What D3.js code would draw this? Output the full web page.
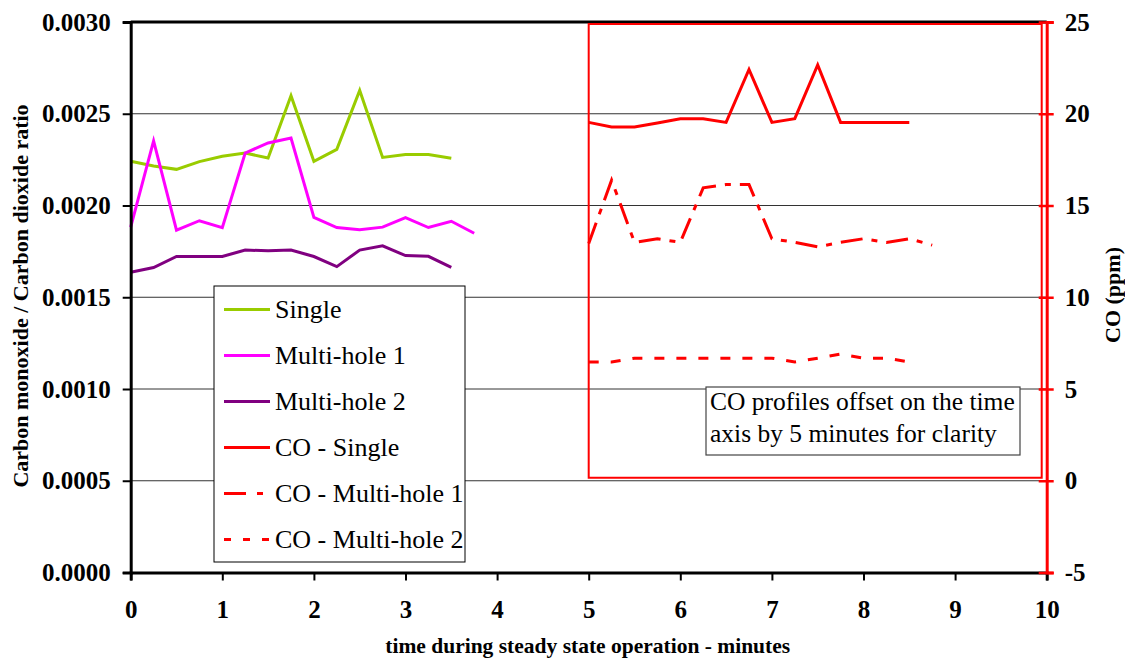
<!DOCTYPE html>
<html>
<head>
<meta charset="utf-8">
<script src="https://cdn.jsdelivr.net/npm/d3@7"></script>
<style>
  body { margin: 0; background: #fff; }
  svg text { font-family: "Liberation Serif", "Times New Roman", serif; }
</style>
</head>
<body>
<div id="chart"></div>
<script>
// time points (minutes)
const timeA = [0, 0.25, 0.5, 0.75, 1, 1.25, 1.5, 1.75, 2, 2.25, 2.5, 2.75, 3, 3.25, 3.5];
const timeB = [0, 0.25, 0.5, 0.75, 1, 1.25, 1.5, 1.75, 2, 2.25, 2.5, 2.75, 3, 3.25, 3.5, 3.75];
// CO profiles are shown offset by 5 minutes
const timeCoA = [5, 5.25, 5.5, 5.75, 6, 6.25, 6.5, 6.75, 7, 7.25, 7.5, 7.75, 8, 8.25, 8.5];
const timeCoB = [5, 5.25, 5.5, 5.75, 6, 6.25, 6.5, 6.75, 7, 7.25, 7.5, 7.75, 8, 8.25, 8.5, 8.75];

// CO / CO2 ratio
const single = [0.002241, 0.002215, 0.002197, 0.002239, 0.002268, 0.002286, 0.002259, 0.002598,
  0.002241, 0.002306, 0.002627, 0.002262, 0.002278, 0.002278, 0.002258];
const multiHole1 = [0.001882, 0.002352, 0.001866, 0.001917, 0.001879, 0.002286, 0.002341, 0.002368,
  0.001935, 0.001880, 0.001868, 0.001882, 0.001934, 0.001880, 0.001914, 0.001849];
const multiHole2 = [0.001636, 0.001662, 0.001722, 0.001722, 0.001722, 0.001757, 0.001753, 0.001757,
  0.001722, 0.001667, 0.001757, 0.001780, 0.001727, 0.001723, 0.001663];

// CO (ppm)
const coSingle = [19.53, 19.28, 19.28, 19.5, 19.73, 19.73, 19.53, 22.41, 19.53, 19.73, 22.66, 19.53, 19.53, 19.53, 19.53];
const coMultiHole1 = [12.93, 16.38, 12.99, 13.19, 12.99, 15.96, 16.14, 16.14, 13.19, 12.99, 12.75, 12.99, 13.19, 12.99, 13.19, 12.84];
const coMultiHole2 = [6.47, 6.47, 6.68, 6.68, 6.68, 6.68, 6.68, 6.68, 6.68, 6.47, 6.68, 6.90, 6.68, 6.68, 6.47];

const xTicks = [0, 1, 2, 3, 4, 5, 6, 7, 8, 9, 10];
const leftTicks = [0, 0.0005, 0.001, 0.0015, 0.002, 0.0025, 0.003];
const rightTicks = [-5, 0, 5, 10, 15, 20, 25];

const width = 1125;
const height = 659;
const plotLeft = 130.7, plotRight = 1046.7, plotTop = 22, plotBottom = 572.5;

const svg = d3.select("#chart").append("svg")
  .attr("width", width)
  .attr("height", height);

const x = d3.scaleLinear().domain([0, 10]).range([plotLeft, plotRight]);
const yL = d3.scaleLinear().domain([0, 0.003]).range([plotBottom, plotTop]);
const yR = d3.scaleLinear().domain([-5, 25]).range([plotBottom, plotTop]);

// gridlines
svg.append("g")
  .selectAll("line")
  .data(leftTicks.filter(d => d > 0 && d < 0.003))
  .enter()
  .append("line")
  .attr("x1", plotLeft).attr("x2", plotRight)
  .attr("y1", d => yL(d)).attr("y2", d => yL(d))
  .attr("stroke", "#333")
  .attr("stroke-width", 1);

// top border
svg.append("line")
  .attr("x1", plotLeft).attr("x2", plotRight)
  .attr("y1", plotTop).attr("y2", plotTop)
  .attr("stroke", "#000").attr("stroke-width", 3);

// red box around the CO profiles
svg.append("rect")
  .attr("x", x(5))
  .attr("y", plotTop + 2)
  .attr("width", plotRight - 5 - x(5))
  .attr("height", yR(0) - 3 - (plotTop + 2))
  .attr("fill", "none")
  .attr("stroke", "#ff0000")
  .attr("stroke-width", 2);

// annotation
const note = svg.append("g");
note.append("rect")
  .attr("x", 706).attr("y", 387)
  .attr("width", 314).attr("height", 68)
  .attr("fill", "#fff").attr("stroke", "#444").attr("stroke-width", 1.2);
note.append("text").attr("x", 710).attr("y", 410)
  .style("font-size", "25.5px").text("CO profiles offset on the time");
note.append("text").attr("x", 710).attr("y", 442)
  .style("font-size", "25.5px").text("axis by 5 minutes for clarity");

const series = [
  { name: "Single", t: timeA, v: single, y: yL, color: "#99cc00", dash: null },
  { name: "Multi-hole 1", t: timeB, v: multiHole1, y: yL, color: "#ff00ff", dash: null },
  { name: "Multi-hole 2", t: timeA, v: multiHole2, y: yL, color: "#800080", dash: null },
  { name: "CO - Single", t: timeCoA, v: coSingle, y: yR, color: "#ff0000", dash: null },
  { name: "CO - Multi-hole 1", t: timeCoB, v: coMultiHole1, y: yR, color: "#ff0000", dash: "22,9,6,9", legendDash: "22,11,6,11" },
  { name: "CO - Multi-hole 2", t: timeCoA, v: coMultiHole2, y: yR, color: "#ff0000", dash: "10,12", legendDash: "7,12" }
];

series.forEach(s => {
  const line = d3.line()
    .x((d, i) => x(s.t[i]))
    .y(d => s.y(d));
  svg.append("path")
    .datum(s.v)
    .attr("d", line)
    .attr("fill", "none")
    .attr("stroke", s.color)
    .attr("stroke-width", 3)
    .attr("stroke-linejoin", "miter")
    .attr("stroke-dasharray", s.dash);
});

// legend
const legend = svg.append("g");
legend.append("rect")
  .attr("x", 214).attr("y", 286)
  .attr("width", 251).attr("height", 276)
  .attr("fill", "#fff").attr("stroke", "#000").attr("stroke-width", 1);

const rows = legend.selectAll("g.row")
  .data(series)
  .enter()
  .append("g")
  .attr("class", "row")
  .attr("transform", (d, i) => "translate(0," + (309.5 + i * 46) + ")");
rows.append("line")
  .attr("x1", 224).attr("x2", 270)
  .attr("stroke", d => d.color)
  .attr("stroke-width", 3)
  .attr("stroke-dasharray", d => d.legendDash || d.dash);
rows.append("text")
  .attr("x", 275).attr("y", 8.5)
  .style("font-size", "26px")
  .text(d => d.name);

// axes
const axisLeft = svg.append("g")
  .attr("transform", "translate(" + plotLeft + ",0)")
  .call(d3.axisLeft(yL).tickValues(leftTicks).tickFormat(d3.format(".4f")).tickSize(8).tickPadding(12));
axisLeft.select(".domain").attr("stroke-width", 3);
axisLeft.selectAll(".tick line").attr("stroke-width", 2);
axisLeft.selectAll("text").style("font-size", "25px").style("font-weight", "bold")
  .style("font-family", "'Liberation Serif', serif");

const axisBottom = svg.append("g")
  .attr("transform", "translate(0," + plotBottom + ")")
  .call(d3.axisBottom(x).tickValues(xTicks).tickFormat(d3.format("d")).tickSize(8).tickPadding(20));
axisBottom.select(".domain").attr("stroke-width", 3);
axisBottom.selectAll(".tick line").attr("stroke-width", 2);
axisBottom.selectAll("text").style("font-size", "25px").style("font-weight", "bold")
  .style("font-family", "'Liberation Serif', serif");

const axisRight = svg.append("g")
  .attr("transform", "translate(" + plotRight + ",0)")
  .call(d3.axisRight(yR).tickValues(rightTicks).tickFormat(d => d < 0 ? "-" + Math.abs(d) : d).tickSize(7).tickPadding(11));
axisRight.select(".domain").attr("stroke", "#ff0000").attr("stroke-width", 3);
axisRight.selectAll(".tick line").attr("stroke", "#ff0000").attr("stroke-width", 2.5).attr("x1", -8);
axisRight.selectAll("text").style("font-size", "25px").style("font-weight", "bold")
  .style("font-family", "'Liberation Serif', serif").attr("fill", "#000");

// titles
svg.append("text")
  .attr("x", (plotLeft + plotRight) / 2 - 1)
  .attr("y", 653)
  .attr("text-anchor", "middle")
  .style("font-size", "21.5px").style("font-weight", "bold")
  .text("time during steady state operation - minutes");

svg.append("text")
  .attr("transform", "translate(28,296) rotate(-90)")
  .attr("text-anchor", "middle")
  .style("font-size", "22px").style("font-weight", "bold")
  .text("Carbon monoxide / Carbon dioxide ratio");

svg.append("text")
  .attr("transform", "translate(1120,295) rotate(-90)")
  .attr("text-anchor", "middle")
  .style("font-size", "22px").style("font-weight", "bold")
  .text("CO (ppm)");
</script>
</body>
</html>
